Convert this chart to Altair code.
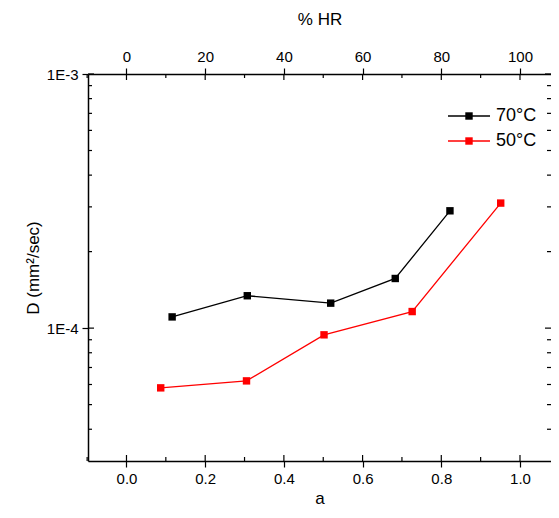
import altair as alt
import pandas as pd

# ---- data ----
a_70 = [0.116, 0.307, 0.519, 0.683, 0.822]
D_70 = [1.107e-4, 1.341e-4, 1.254e-4, 1.568e-4, 2.895e-4]
a_50 = [0.087, 0.305, 0.502, 0.726, 0.951]
D_50 = [5.82e-5, 6.20e-5, 9.41e-5, 1.162e-4, 3.105e-4]
series_names = ["70°C", "50°C"]
series_colors = ["#000000", "#ff0000"]

x_major = [0.0, 0.2, 0.4, 0.6, 0.8, 1.0]
x_minor = [-0.1, 0.1, 0.3, 0.5, 0.7, 0.9]
y_major = [1e-3, 1e-4]
y_minor = [4e-5, 5e-5, 6e-5, 7e-5, 8e-5, 9e-5,
           2e-4, 3e-4, 4e-4, 5e-4, 6e-4, 7e-4, 8e-4, 9e-4]

W, H = 463, 387
XDOM = [-0.0978, 1.0788]
YDOM = [3e-5, 1e-3]
FONT = "Liberation Sans"

df = pd.concat([
    pd.DataFrame({"a": a_70, "D": D_70, "s": series_names[0]}),
    pd.DataFrame({"a": a_50, "D": D_50, "s": series_names[1]}),
])

xs = alt.Scale(domain=XDOM, nice=False, zero=False)
ys = alt.Scale(type="log", domain=YDOM, nice=False)
cs = alt.Scale(domain=series_names, range=series_colors)

ax_common = dict(domainColor="black", domainWidth=1.5, tickColor="black",
                 tickWidth=1.2, tickSize=6, labelFont=FONT, labelFontSize=15,
                 labelColor="black", titleFont=FONT, titleFontSize=17,
                 titleFontWeight="normal", titleColor="black", grid=False,
                 labelPadding=4)

x_bottom = alt.X("a:Q", scale=xs, title="a",
                 axis=alt.Axis(orient="bottom", values=x_major, format=".1f",
                               titlePadding=4, **ax_common))
y_left = alt.Y("D:Q", scale=ys, title="D (mm²/sec)",
               axis=alt.Axis(orient="left", values=y_major,
                             labelExpr="datum.value >= 0.00099 ? '1E-3' : '1E-4'",
                             titlePadding=4, **ax_common))

base = alt.Chart(df)
lines = base.mark_line(strokeWidth=1.3).encode(
    x=x_bottom, y=y_left,
    color=alt.Color("s:N", scale=cs, legend=None),
    detail="s:N")
points = base.mark_point(shape="square", filled=True, size=55, opacity=1).encode(
    x=alt.X("a:Q", scale=xs, axis=None), y=alt.Y("D:Q", scale=ys),
    color=alt.Color("s:N", scale=cs, legend=None))

# top axis (% HR) sharing the x scale
top_df = pd.DataFrame({"a": x_major})
top_axis = alt.Chart(top_df).mark_point(opacity=0).encode(
    x=alt.X("a:Q", scale=xs, title="% HR",
            axis=alt.Axis(orient="top", values=x_major,
                          labelExpr="format(datum.value*100, 'd')",
                          titlePadding=21, **ax_common)))

# inward tick marks
xmaj_df = pd.DataFrame({"a": x_major})
xmin_df = pd.DataFrame({"a": x_minor})
ymaj_df = pd.DataFrame({"D": y_major})
ymin_df = pd.DataFrame({"D": y_minor})

def xticks(d, length, top):
    y0 = 0 if top else H
    y1 = length if top else H - length
    return alt.Chart(d).mark_rule(color="black", strokeWidth=1.2).encode(
        x=alt.X("a:Q", scale=xs, axis=None), y=alt.value(y0), y2=alt.value(y1))

def yticks(d, length, right):
    x0 = W if right else 0
    x1 = W - length if right else length
    return alt.Chart(d).mark_rule(color="black", strokeWidth=1.2).encode(
        y=alt.Y("D:Q", scale=ys), x=alt.value(x0), x2=alt.value(x1))

ticks = [xticks(xmaj_df, 6, False), xticks(xmaj_df, 6, True),
         xticks(xmin_df, 4, False), xticks(xmin_df, 4, True),
         yticks(ymaj_df, 6, False), yticks(ymaj_df, 6, True),
         yticks(ymin_df, 4, False), yticks(ymin_df, 4, True)]

# legend
leg_rows = []
for i, (name, col) in enumerate(zip(series_names, series_colors)):
    yy = 42 + 25 * i
    leg_rows.append(alt.Chart(pd.DataFrame({"s": [name]})).mark_rule(
        color=col, strokeWidth=1.3).encode(
        x=alt.value(360), x2=alt.value(402), y=alt.value(yy)))
    leg_rows.append(alt.Chart(pd.DataFrame({"s": [name]})).mark_point(
        shape="square", filled=True, size=55, opacity=1, color=col).encode(
        x=alt.value(381), y=alt.value(yy)))
    leg_rows.append(alt.Chart(pd.DataFrame({"s": [name]})).mark_text(
        align="left", baseline="middle", font=FONT, fontSize=18,
        color="black").encode(
        x=alt.value(408), y=alt.value(yy), text="s:N"))

chart = alt.layer(lines, points, top_axis, *ticks, *leg_rows).resolve_axis(
    x="independent").properties(
    width=W, height=H,
    autosize=alt.AutoSizeParams(type="none"),
    padding={"left": 80, "top": 66, "right": 0, "bottom": 48},
).configure_view(stroke="black", strokeWidth=1.5).configure(background="white")

chart.save("out.html", embed_options={"renderer": "svg", "actions": False})
